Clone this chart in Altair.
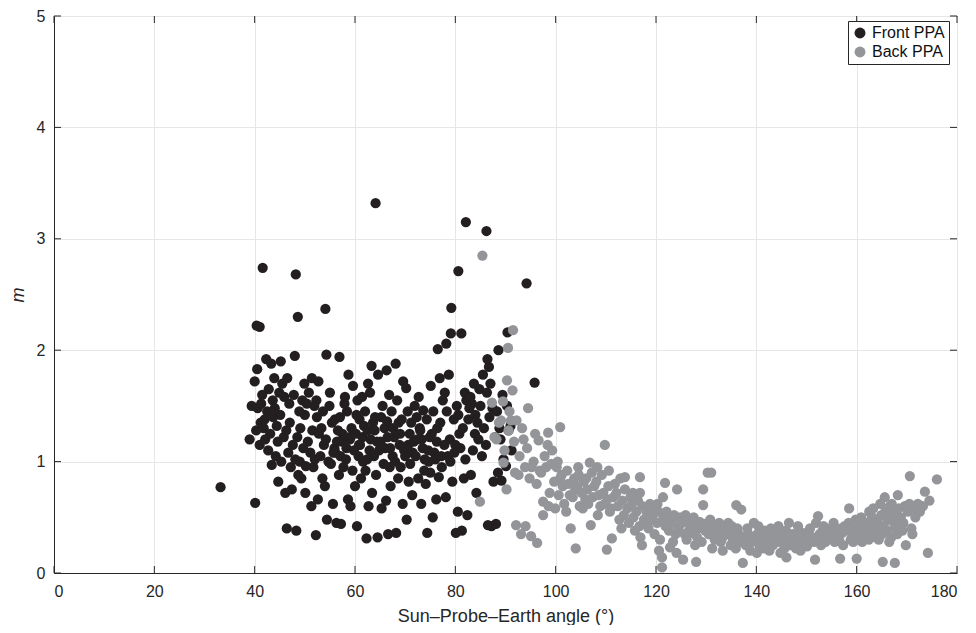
import altair as alt
import pandas as pd

# (Sun-Probe-Earth angle in degrees, m)
front_ppa = [
    (33.2, 0.77),
    (39.0, 1.20), (39.4, 1.50),
    (40.1, 0.63), (40.3, 1.28), (40.6, 1.48), (40.0, 1.72), (40.5, 1.83), (40.4, 2.22),
    (41.2, 1.35), (41.5, 1.60), (41.8, 1.30), (41.0, 1.15), (41.0, 2.21), (41.6, 2.74), (41.3, 1.52),
    (42.1, 1.20), (42.5, 1.45), (42.8, 1.65), (42.3, 1.92), (42.7, 1.10), (42.0, 1.38),
    (43.4, 0.97), (43.1, 1.25), (43.6, 1.55), (43.9, 1.75), (43.3, 1.88), (43.7, 1.40),
    (44.2, 1.05), (44.6, 1.18), (44.0, 1.48), (44.9, 1.62), (44.4, 1.32), (44.7, 0.82),
    (45.3, 1.00), (45.8, 1.22), (45.1, 1.42), (45.5, 1.70), (45.9, 1.58), (45.2, 1.90),
    (46.4, 0.40), (46.1, 0.72), (46.7, 1.08), (46.3, 1.28), (46.9, 1.52), (46.5, 1.75),
    (47.2, 0.95), (47.6, 1.15), (47.0, 1.35), (47.8, 1.60), (47.4, 0.75),
    (48.3, 0.38), (48.7, 0.88), (48.1, 1.02), (48.5, 1.22), (48.9, 1.45), (48.0, 1.95), (48.6, 2.30), (48.2, 2.68),
    (49.3, 0.85), (49.7, 1.12), (49.1, 1.30), (49.5, 1.55), (49.9, 1.70), (49.0, 1.00),
    (50.2, 0.96), (50.6, 1.18), (50.0, 1.42), (50.8, 1.62), (50.4, 1.52), (50.1, 0.72),
    (51.3, 0.60), (51.7, 0.95), (51.1, 1.08), (51.5, 1.28), (51.9, 1.50), (51.4, 1.75),
    (52.2, 0.34), (52.6, 0.66), (52.0, 1.02), (52.8, 1.25), (52.4, 1.40), (52.3, 1.55), (52.7, 1.72),
    (53.5, 0.85), (53.1, 1.05), (53.8, 1.15), (53.3, 1.30), (53.6, 1.45),
    (54.4, 0.48), (54.0, 0.78), (54.7, 1.00), (54.2, 1.20), (54.9, 1.50), (54.3, 1.96), (54.1, 2.37),
    (55.6, 0.62), (55.2, 0.98), (55.9, 1.12), (55.4, 1.35), (55.0, 1.62), (55.7, 1.08),
    (56.3, 0.45), (56.8, 0.88), (56.1, 1.08), (56.6, 1.28), (56.0, 1.38), (56.9, 1.94), (56.4, 1.18),
    (57.2, 0.44), (57.7, 0.95), (57.4, 1.18), (57.0, 1.40), (57.9, 1.52), (57.5, 1.25), (57.1, 1.05),
    (58.6, 0.66), (58.2, 1.02), (58.9, 1.22), (58.4, 1.45), (58.0, 1.58), (58.7, 1.78), (58.3, 1.12),
    (59.1, 0.60), (59.5, 0.92), (59.8, 1.10), (59.3, 1.30), (59.6, 1.68), (59.0, 1.20),
    (60.4, 0.42), (60.0, 0.78), (60.7, 1.05), (60.2, 1.25), (60.9, 1.38), (60.5, 1.55), (60.3, 1.42), (60.8, 1.15),
    (61.2, 0.85), (61.6, 1.00), (61.0, 1.15), (61.8, 1.32), (61.4, 1.58), (61.5, 1.22),
    (62.3, 0.31), (62.7, 0.60), (62.1, 0.92), (62.9, 1.10), (62.5, 1.28), (62.0, 1.45), (62.6, 1.70), (62.4, 1.02),
    (63.4, 0.72), (63.8, 1.05), (63.1, 1.20), (63.6, 1.35), (63.0, 1.62), (63.3, 1.86), (63.9, 1.28),
    (64.5, 0.32), (64.2, 0.88), (64.8, 1.10), (64.0, 1.40), (64.6, 1.78), (64.1, 3.32), (64.4, 1.18),
    (65.3, 0.58), (65.7, 0.98), (65.1, 1.18), (65.9, 1.30), (65.5, 1.50), (65.2, 1.40),
    (66.6, 0.35), (66.2, 0.65), (66.9, 0.95), (66.0, 1.12), (66.4, 1.36), (66.8, 1.60), (66.3, 1.82), (66.5, 1.22),
    (67.1, 0.78), (67.5, 1.05), (67.8, 1.22), (67.3, 1.45), (67.6, 1.30), (67.0, 1.12),
    (68.2, 0.36), (68.6, 0.85), (68.0, 1.00), (68.9, 1.15), (68.4, 1.55), (68.1, 1.88), (68.7, 1.35),
    (69.5, 0.62), (69.1, 0.95), (69.8, 1.10), (69.3, 1.38), (69.6, 1.72), (69.0, 1.25),
    (70.3, 0.48), (70.7, 0.82), (70.0, 1.05), (70.9, 1.25), (70.5, 1.45), (70.2, 1.66), (70.6, 1.15),
    (71.4, 0.70), (71.0, 0.98), (71.7, 1.18), (71.2, 1.35), (71.9, 1.50), (71.5, 1.08),
    (72.6, 0.85), (72.1, 1.05), (72.9, 1.30), (72.3, 1.40), (72.7, 1.58), (72.4, 1.20),
    (73.2, 0.62), (73.8, 0.92), (73.5, 1.12), (73.0, 1.28), (73.6, 1.46), (73.3, 1.20), (73.9, 1.02),
    (74.4, 0.36), (74.1, 0.80), (74.7, 1.00), (74.9, 1.22), (74.3, 1.38), (74.6, 1.10),
    (75.5, 0.50), (75.0, 0.90), (75.8, 1.08), (75.3, 1.25), (75.6, 1.45), (75.1, 1.68),
    (76.2, 0.66), (76.7, 0.86), (76.0, 1.02), (76.4, 1.30), (76.9, 1.75), (76.5, 2.01), (76.3, 1.18),
    (77.3, 0.95), (77.8, 1.15), (77.0, 1.35), (77.5, 1.55), (77.9, 1.62), (77.2, 1.05),
    (78.1, 0.68), (78.5, 1.05), (78.9, 1.20), (78.3, 1.45), (78.2, 2.06), (78.7, 1.78),
    (79.4, 0.82), (79.0, 1.00), (79.7, 1.38), (79.1, 2.15), (79.2, 2.38), (79.8, 1.08),
    (80.1, 0.36), (80.5, 0.55), (80.8, 1.25), (80.3, 1.50), (80.6, 1.42), (80.0, 1.15),
    (81.3, 0.38), (81.7, 0.85), (81.0, 1.12), (81.5, 1.30), (81.9, 1.62), (81.2, 2.15), (80.6, 2.71),
    (82.4, 0.52), (82.0, 1.02), (82.8, 1.48), (82.2, 1.55), (82.1, 3.15), (82.6, 1.38),
    (83.1, 0.88), (83.5, 1.10), (83.9, 1.25), (83.3, 1.52), (83.7, 1.70), (83.0, 1.58),
    (84.2, 0.72), (84.6, 1.20), (84.0, 1.42), (84.8, 1.65), (84.4, 1.35),
    (85.3, 1.05), (85.7, 1.30), (85.0, 1.50), (85.5, 1.78),
    (86.5, 0.43), (86.1, 1.15), (86.8, 1.40), (86.3, 1.62), (86.7, 1.85), (86.2, 3.07), (86.4, 1.92),
    (87.2, 0.42), (87.6, 0.82), (87.9, 1.22), (87.4, 1.48), (87.0, 1.70),
    (88.1, 0.44), (88.5, 0.90), (88.8, 1.30), (88.3, 1.45), (88.6, 2.00),
    (89.2, 0.83), (89.6, 1.02), (89.0, 1.20), (89.4, 1.60),
    (90.1, 0.96), (90.6, 1.28), (90.3, 1.50), (90.4, 2.16),
    (91.2, 1.10), (91.0, 1.32),
    (94.2, 2.60), (95.8, 1.71),
]

back_ppa = [
    (84.9, 0.64), (85.4, 2.85),
    (87.3, 1.53), (87.8, 1.22),
    (88.2, 1.20), (88.7, 1.35),
    (89.5, 1.54), (89.1, 1.37), (89.6, 0.99), (89.8, 1.10),
    (90.5, 2.02), (90.3, 1.73), (90.2, 0.75), (90.8, 1.45), (90.6, 1.28),
    (91.5, 2.18), (91.4, 1.64), (91.1, 1.37), (91.7, 1.18), (91.9, 0.90),
    (92.2, 1.37), (92.1, 0.43), (92.6, 0.88), (92.8, 1.05),
    (93.3, 1.30), (93.1, 0.35), (93.6, 1.20), (93.9, 0.95),
    (94.5, 1.48), (94.0, 0.42), (94.3, 1.12), (94.8, 0.85),
    (95.2, 0.95), (95.1, 0.33), (95.6, 1.00), (95.9, 1.25),
    (96.3, 0.27), (96.6, 1.19), (96.2, 0.80), (96.8, 0.92),
    (97.5, 0.64), (97.5, 0.52), (97.1, 0.90), (97.8, 1.05),
    (98.5, 1.26), (98.4, 1.15), (98.1, 0.95), (98.8, 0.72), (98.6, 0.60),
    (99.3, 1.10), (99.7, 0.82), (99.1, 0.98), (99.9, 0.58),
    (100.2, 0.95), (100.6, 0.70), (100.9, 0.85), (100.4, 1.00),
    (100.9, 1.31), (101.4, 0.78), (101.7, 0.62), (101.2, 0.88),
    (102.3, 0.92), (102.8, 0.70), (102.5, 0.80), (102.1, 0.55),
    (103.0, 0.40), (103.4, 0.68), (103.7, 0.85), (103.9, 0.75),
    (104.5, 0.95), (104.0, 0.22), (104.3, 0.78), (104.8, 0.60), (104.6, 0.88),
    (105.2, 0.72), (105.6, 0.82), (105.9, 0.66), (105.4, 0.58),
    (106.1, 0.85), (106.5, 0.62), (106.3, 0.75), (106.8, 0.99),
    (107.0, 0.43), (107.4, 0.68), (107.7, 0.78), (107.2, 0.90),
    (108.3, 0.95), (108.6, 0.70), (108.1, 0.82), (108.9, 0.60), (108.4, 0.52),
    (109.2, 0.88), (109.5, 0.72), (109.8, 0.62),
    (109.8, 1.15), (110.2, 0.21), (110.5, 0.78), (110.8, 0.55), (110.3, 0.66), (110.6, 0.92),
    (111.2, 0.31), (111.5, 0.68), (111.8, 0.80), (111.0, 0.58),
    (112.4, 0.60), (112.1, 0.72), (112.7, 0.48), (112.9, 0.85),
    (113.3, 0.65), (113.6, 0.52), (113.8, 0.75), (113.1, 0.40),
    (113.8, 0.86), (114.3, 0.58), (114.6, 0.45), (114.9, 0.68),
    (115.2, 0.62), (115.5, 0.50), (115.8, 0.38), (115.4, 0.72),
    (116.1, 0.55), (116.4, 0.65), (116.7, 0.42), (116.9, 0.32),
    (116.8, 0.86), (116.8, 0.72), (117.3, 0.60), (117.6, 0.48), (117.2, 0.25),
    (118.1, 0.55), (118.5, 0.40), (118.8, 0.62), (118.3, 0.45),
    (119.4, 0.52), (119.7, 0.35), (119.1, 0.48), (119.9, 0.58),
    (120.2, 0.45), (120.5, 0.55), (120.8, 0.30), (120.3, 0.62), (120.6, 0.20),
    (121.8, 0.81), (121.2, 0.14), (121.2, 0.05), (121.5, 0.50), (121.9, 0.42),
    (121.4, 0.68), (122.8, 0.23), (122.3, 0.48), (122.6, 0.38), (122.1, 0.55),
    (123.2, 0.45), (123.6, 0.52), (123.9, 0.35), (123.4, 0.28),
    (124.2, 0.75), (124.5, 0.40), (124.8, 0.50), (124.1, 0.18),
    (125.4, 0.12), (125.2, 0.45), (125.7, 0.35), (125.9, 0.52),
    (126.3, 0.48), (126.6, 0.38), (126.1, 0.30), (126.9, 0.42),
    (127.2, 0.42), (127.5, 0.50), (127.8, 0.25), (127.1, 0.36),
    (128.0, 0.10), (128.4, 0.40), (128.7, 0.46), (128.2, 0.32),
    (129.4, 0.75), (129.4, 0.61), (129.8, 0.38), (129.1, 0.28), (129.6, 0.44),
    (130.3, 0.90), (130.5, 0.35), (130.8, 0.48), (130.1, 0.40),
    (131.0, 0.90), (131.4, 0.42), (131.7, 0.30), (131.2, 0.22),
    (132.2, 0.38), (132.6, 0.45), (132.9, 0.28), (132.4, 0.33),
    (133.5, 0.42), (133.1, 0.30), (133.8, 0.36), (133.3, 0.20),
    (134.2, 0.35), (134.6, 0.40), (134.9, 0.25), (134.4, 0.45),
    (135.3, 0.30), (135.7, 0.38), (135.1, 0.42), (135.9, 0.22),
    (136.0, 0.61), (136.5, 0.35), (136.8, 0.28), (136.2, 0.40),
    (137.0, 0.57), (137.3, 0.09), (137.6, 0.32), (137.9, 0.25),
    (138.2, 0.40), (138.5, 0.30), (138.8, 0.20), (138.4, 0.35),
    (139.1, 0.28), (139.5, 0.45), (139.8, 0.33),
    (140.2, 0.35), (140.6, 0.25), (140.9, 0.30), (140.4, 0.42), (140.1, 0.18),
    (141.3, 0.28), (141.7, 0.38), (141.5, 0.22),
    (142.2, 0.32), (142.6, 0.20), (142.9, 0.40), (142.4, 0.27),
    (143.3, 0.25), (143.7, 0.35), (143.1, 0.30),
    (144.4, 0.42), (144.1, 0.28), (144.8, 0.18), (144.6, 0.34),
    (145.2, 0.30), (145.6, 0.22), (145.9, 0.38), (145.4, 0.26),
    (146.0, 0.14), (146.3, 0.32), (146.7, 0.25), (146.5, 0.45),
    (147.2, 0.35), (147.6, 0.28), (147.9, 0.22),
    (148.1, 0.30), (148.5, 0.38), (148.8, 0.20), (148.3, 0.42),
    (149.2, 0.26), (149.6, 0.33), (149.9, 0.36),
    (150.3, 0.30), (150.7, 0.40), (150.1, 0.24), (150.5, 0.35),
    (151.7, 0.12), (151.2, 0.32), (151.5, 0.28), (151.9, 0.45),
    (152.3, 0.51), (152.6, 0.35), (152.1, 0.30), (152.9, 0.25),
    (153.2, 0.38), (153.5, 0.32), (153.8, 0.28), (153.4, 0.42),
    (154.1, 0.30), (154.5, 0.36), (154.8, 0.40),
    (155.2, 0.33), (155.6, 0.28), (155.9, 0.38), (155.4, 0.45),
    (156.7, 0.13), (156.2, 0.35), (156.5, 0.30), (156.9, 0.40),
    (157.3, 0.25), (157.6, 0.42), (157.1, 0.36),
    (158.5, 0.58), (158.2, 0.38), (158.8, 0.30), (158.4, 0.45),
    (159.1, 0.40), (159.5, 0.33), (159.8, 0.48), (159.3, 0.28),
    (160.0, 0.13), (160.4, 0.35), (160.7, 0.42), (160.2, 0.30), (160.9, 0.50),
    (161.3, 0.38), (161.6, 0.45), (161.1, 0.28), (161.9, 0.33),
    (162.2, 0.42), (162.5, 0.55), (162.8, 0.35), (162.4, 0.30), (162.9, 0.48),
    (163.1, 0.50), (163.5, 0.40), (163.8, 0.32), (163.3, 0.58), (163.6, 0.45),
    (164.2, 0.45), (164.6, 0.38), (164.9, 0.52), (164.4, 0.30), (164.7, 0.62),
    (165.2, 0.10), (165.6, 0.68), (165.4, 0.42), (165.9, 0.50), (165.1, 0.35), (165.7, 0.55),
    (166.3, 0.48), (166.6, 0.60), (166.1, 0.38), (166.9, 0.32), (166.5, 0.28),
    (167.6, 0.09), (167.2, 0.55), (167.4, 0.45), (167.8, 0.40), (167.0, 0.62), (167.9, 0.50),
    (168.2, 0.70), (168.5, 0.42), (168.8, 0.50), (168.4, 0.58), (168.1, 0.35),
    (169.3, 0.45), (169.6, 0.60), (169.1, 0.38), (169.8, 0.25),
    (170.6, 0.87), (170.2, 0.55), (170.5, 0.62), (170.9, 0.40),
    (171.3, 0.58), (171.7, 0.50), (171.1, 0.35),
    (172.2, 0.62), (172.6, 0.55),
    (173.6, 0.73), (173.2, 0.60),
    (174.2, 0.18), (174.5, 0.65),
    (176.0, 0.84),
]

series_names = ["Front PPA", "Back PPA"]
series_colors = ["#231f20", "#939598"]
x_ticks = [0, 20, 40, 60, 80, 100, 120, 140, 160, 180]
y_ticks = [0, 1, 2, 3, 4, 5]

rows = [{"angle": a, "m": m, "series": "Front PPA", "order": 0} for a, m in front_ppa]
rows += [{"angle": a, "m": m, "series": "Back PPA", "order": 1} for a, m in back_ppa]
df = pd.DataFrame(rows)

W, H = 903, 557
FONT = "Liberation Sans"
AX = "#262626"

xscale = alt.Scale(domain=[0, 180], nice=False, zero=False)
yscale = alt.Scale(domain=[0, 5], nice=False, zero=False)
x_axis = alt.Axis(values=x_ticks, format="d", title="Sun–Probe–Earth angle (°)",
                  tickSize=0, labelPadding=10, titlePadding=8)
y_axis = alt.Axis(values=y_ticks, format="d", title="m", titleFontStyle="italic",
                  tickSize=0, labelPadding=9, titlePadding=9)

points = alt.Chart(df).mark_circle(size=105, opacity=1).encode(
    x=alt.X("angle:Q", scale=xscale, axis=x_axis),
    y=alt.Y("m:Q", scale=yscale, axis=y_axis),
    color=alt.Color("series:N",
                    scale=alt.Scale(domain=series_names, range=series_colors),
                    legend=alt.Legend(title=None, orient="none", legendX=794, legendY=5,
                                      strokeColor=AX, fillColor="white", padding=4,
                                      labelFont=FONT, labelFontSize=16, labelColor="#111111",
                                      symbolType="circle", symbolSize=120, symbolStrokeWidth=0,
                                      rowPadding=3, labelOffset=4)),
    order=alt.Order("order:Q"),
)

xt = pd.DataFrame({"v": x_ticks})
yt = pd.DataFrame({"v": y_ticks})

tick_x_bottom = alt.Chart(xt).mark_rule(color=AX, strokeWidth=1).encode(
    x=alt.X("v:Q", scale=xscale, axis=x_axis), y=alt.value(H), y2=alt.value(H - 7))
tick_x_top = alt.Chart(xt).mark_rule(color=AX, strokeWidth=1).encode(
    x=alt.X("v:Q", scale=xscale, axis=x_axis), y=alt.value(0), y2=alt.value(7))
tick_y_left = alt.Chart(yt).mark_rule(color=AX, strokeWidth=1).encode(
    y=alt.Y("v:Q", scale=yscale, axis=y_axis), x=alt.value(0), x2=alt.value(7))
tick_y_right = alt.Chart(yt).mark_rule(color=AX, strokeWidth=1).encode(
    y=alt.Y("v:Q", scale=yscale, axis=y_axis), x=alt.value(W), x2=alt.value(W - 7))

chart = alt.layer(points, tick_x_bottom, tick_x_top, tick_y_left, tick_y_right).properties(
    width=W, height=H,
    background="white",
    autosize=alt.AutoSizeParams(type="none"),
    padding={"left": 46, "top": 8, "right": 11, "bottom": 52},
).configure_view(
    stroke=AX, strokeWidth=1
).configure_axis(
    grid=True, gridColor="#e6e6e6", gridWidth=1,
    domainColor=AX, domainWidth=1,
    labelFont=FONT, labelFontSize=16, labelColor=AX,
    titleFont=FONT, titleFontSize=18, titleColor=AX, titleFontWeight="normal",
)

chart.save("out.html", embed_options={"renderer": "svg", "actions": False})
